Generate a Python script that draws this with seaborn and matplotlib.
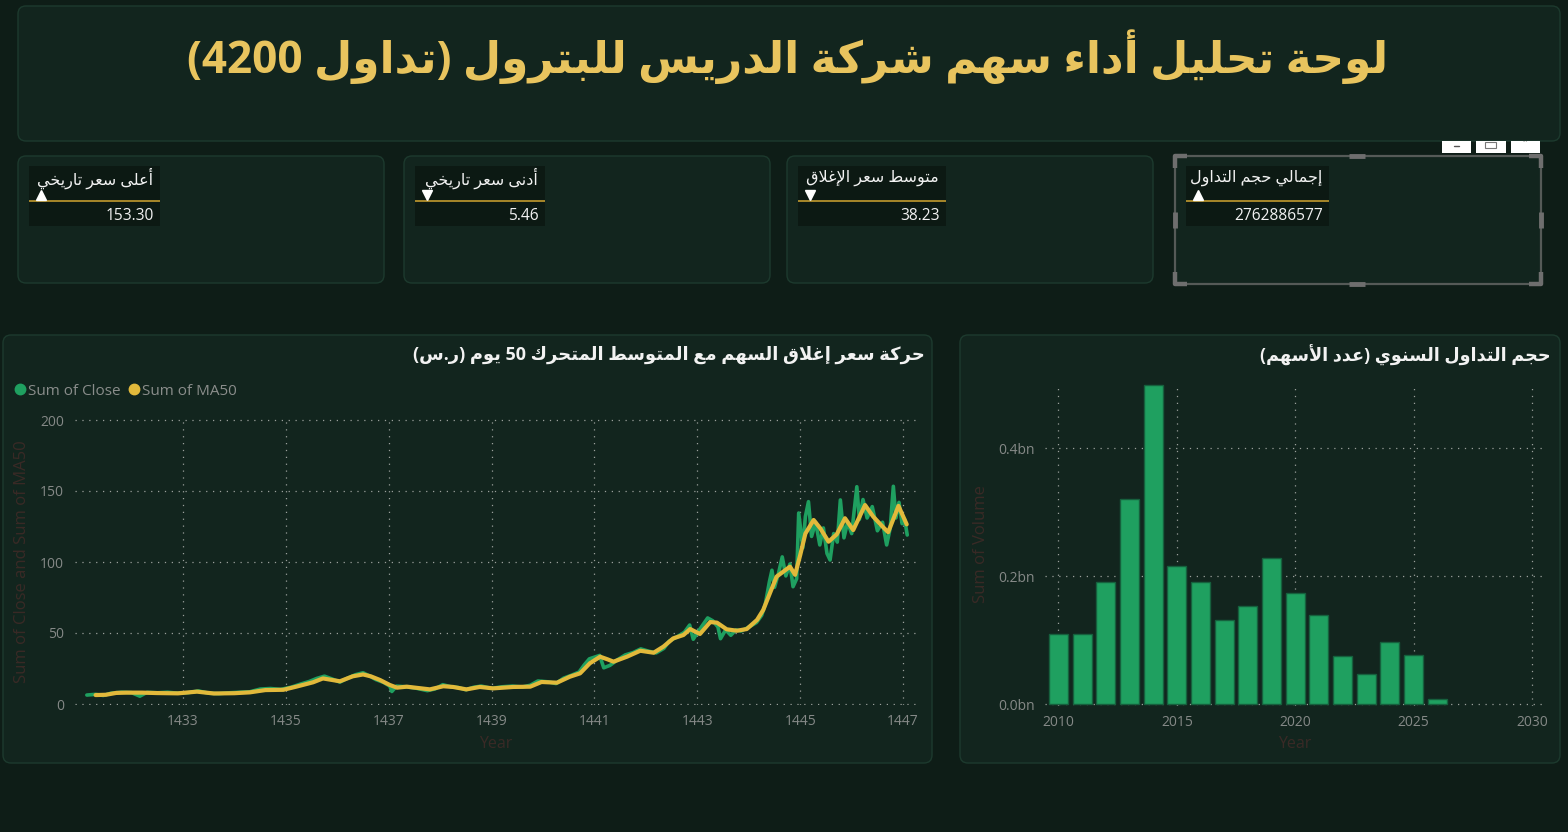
import re
import matplotlib
matplotlib.use("Agg")
import matplotlib.pyplot as plt
import pandas as pd
import seaborn as sns
from matplotlib.patches import FancyBboxPatch, Rectangle
from matplotlib.lines import Line2D
from matplotlib.ticker import FuncFormatter

# ---------------- data ----------------
TITLE = "لوحة تحليل أداء سهم شركة الدريس للبترول (تداول 4200)"
kpi_labels = ["أعلى سعر تاريخي", "أدنى سعر تاريخي", "متوسط سعر الإغلاق", "إجمالي حجم التداول"]
kpi_values = ["153.30", "5.46", "38.23", "2762886577"]
kpi_arrows = ["up", "down", "down", "up"]

line_title = "حركة سعر إغلاق السهم مع المتوسط المتحرك 50 يوم (ر.س)"
bar_title = "حجم التداول السنوي (عدد الأسهم)"
series_names = ["Sum of Close", "Sum of MA50"]

close_year = [1431.13, 1431.3, 1431.45, 1431.6, 1431.8, 1432.0, 1432.16, 1432.3, 1432.5, 1432.7,
              1432.9, 1433.1, 1433.3, 1433.5, 1433.7, 1433.9, 1434.1, 1434.3, 1434.5, 1434.7,
              1434.9, 1435.1, 1435.3, 1435.45, 1435.6, 1435.75, 1435.9, 1436.05, 1436.2, 1436.35,
              1436.5, 1436.6, 1436.75, 1436.9, 1437.02, 1437.06, 1437.15, 1437.35, 1437.55, 1437.75,
              1437.9, 1438.05, 1438.2, 1438.35, 1438.5, 1438.65, 1438.8, 1439.0, 1439.2, 1439.4,
              1439.6, 1439.75, 1439.9, 1440.1, 1440.25, 1440.4, 1440.55, 1440.7, 1440.8, 1440.9,
              1441.0, 1441.1, 1441.18, 1441.3, 1441.45, 1441.6, 1441.75, 1441.9, 1442.05, 1442.2,
              1442.35, 1442.45, 1442.6, 1442.75, 1442.85, 1442.92, 1443.0, 1443.1, 1443.2, 1443.3,
              1443.4, 1443.45, 1443.55, 1443.65, 1443.75, 1443.85, 1443.95, 1444.05, 1444.15, 1444.25,
              1444.32, 1444.4, 1444.45, 1444.5, 1444.58, 1444.65, 1444.72, 1444.8, 1444.86, 1444.93,
              1444.97, 1445.05, 1445.1, 1445.16, 1445.22, 1445.3, 1445.38, 1445.45, 1445.52, 1445.58,
              1445.65, 1445.72, 1445.78, 1445.85, 1445.92, 1446.0, 1446.1, 1446.15, 1446.22, 1446.3,
              1446.4, 1446.5, 1446.6, 1446.68, 1446.75, 1446.81, 1446.86, 1446.92, 1446.98, 1447.03,
              1447.08]
close_value = [6.3, 6.8, 6.0, 7.6, 8.3, 8.0, 5.5, 8.2, 7.9, 8.3,
               7.6, 8.0, 9.2, 7.6, 7.3, 7.9, 8.3, 8.6, 10.5, 10.9,
               10.3, 11.8, 14.2, 15.8, 18.0, 19.6, 17.6, 15.4, 18.2, 20.6,
               22.0, 20.2, 17.2, 15.2, 12.6, 8.8, 12.6, 12.1, 11.0, 9.4,
               10.6, 13.6, 12.2, 11.6, 10.0, 11.8, 12.6, 11.0, 12.1, 12.6,
               12.0, 13.2, 16.2, 15.6, 14.4, 18.2, 20.2, 22.5, 27.5, 31.8,
               33.0, 34.2, 25.5, 27.2, 31.2, 34.6, 36.2, 38.8, 37.2, 36.0,
               39.2, 44.2, 47.2, 50.6, 55.6, 45.6, 50.2, 55.4, 60.6, 58.6,
               54.2, 46.0, 52.2, 48.4, 52.2, 51.4, 53.2, 55.2, 57.4, 62.4,
               70.2, 86.0, 94.2, 82.2, 92.4, 103.6, 90.2, 98.6, 82.6, 88.2,
               134.5, 110.0, 132.0, 142.5, 118.0, 128.0, 112.0, 124.0, 106.0, 101.4,
               120.0, 114.0, 143.7, 117.0, 128.0, 120.0, 153.0, 130.0, 144.0, 131.0,
               139.0, 122.0, 128.0, 112.0, 124.0, 153.3, 131.0, 142.0, 127.0, 130.0,
               119.0]

ma50_year = [1431.3, 1431.5, 1431.7, 1431.9, 1432.2, 1432.5, 1432.9, 1433.27, 1433.6, 1434.0,
             1434.3, 1434.6, 1434.95, 1435.2, 1435.53, 1435.72, 1436.05, 1436.3, 1436.5, 1436.65,
             1436.83, 1437.02, 1437.16, 1437.35, 1437.8, 1438.06, 1438.25, 1438.51, 1438.77, 1439.03,
             1439.42, 1439.75, 1439.97, 1440.27, 1440.52, 1440.72, 1440.91, 1441.11, 1441.25, 1441.37,
             1441.63, 1441.89, 1442.15, 1442.34, 1442.53, 1442.73, 1442.86, 1443.05, 1443.25, 1443.38,
             1443.57, 1443.77, 1443.96, 1444.16, 1444.28, 1444.41, 1444.54, 1444.67, 1444.8, 1444.9,
             1445.0, 1445.1, 1445.26, 1445.39, 1445.55, 1445.71, 1445.87, 1446.03, 1446.26, 1446.42,
             1446.62, 1446.71, 1446.91, 1447.07]
ma50_value = [6.3, 6.5, 7.8, 8.0, 8.0, 7.7, 7.5, 8.7, 7.4, 7.6,
              8.2, 9.8, 10.0, 12.2, 15.3, 18.0, 16.0, 19.5, 20.8, 19.5,
              16.9, 13.4, 11.5, 12.2, 10.3, 12.5, 12.0, 10.3, 12.0, 11.0,
              12.0, 12.2, 15.5, 15.0, 19.2, 21.6, 28.7, 33.3, 31.5, 29.8,
              33.3, 37.5, 36.1, 40.4, 46.2, 48.6, 52.8, 49.3, 57.7, 57.3,
              52.6, 51.6, 52.8, 59.2, 66.2, 78.0, 89.7, 93.2, 96.7, 91.0,
              105.0, 120.0, 129.6, 123.7, 114.3, 119.5, 130.8, 122.5, 140.1, 131.9,
              124.2, 121.0, 139.5, 126.5]

vol_year = [2010, 2011, 2012, 2013, 2014, 2015, 2016, 2017, 2018, 2019,
            2020, 2021, 2022, 2023, 2024, 2025, 2026]
vol_value = [0.110e9, 0.110e9, 0.191e9, 0.320e9, 0.498e9, 0.216e9, 0.191e9, 0.131e9, 0.154e9, 0.228e9,
             0.174e9, 0.140e9, 0.075e9, 0.047e9, 0.098e9, 0.077e9, 0.009e9]

line_xticks = [1433, 1435, 1437, 1439, 1441, 1443, 1445, 1447]
line_yticks = [0, 50, 100, 150, 200]
bar_xticks = [2010, 2015, 2020, 2025, 2030]
bar_yticks = [0, 0.2e9, 0.4e9]

# ---------------- Arabic shaping (presentation forms + visual order) ----------------
_AR = {}
for ch, base in [("ب", 0xFE8F), ("ت", 0xFE95), ("ث", 0xFE99), ("ج", 0xFE9D), ("ح", 0xFEA1),
                 ("خ", 0xFEA5), ("س", 0xFEB1), ("ش", 0xFEB5), ("ص", 0xFEB9), ("ض", 0xFEBD),
                 ("ط", 0xFEC1), ("ظ", 0xFEC5), ("ع", 0xFEC9), ("غ", 0xFECD), ("ف", 0xFED1),
                 ("ق", 0xFED5), ("ك", 0xFED9), ("ل", 0xFEDD), ("م", 0xFEE1), ("ن", 0xFEE5),
                 ("ه", 0xFEE9), ("ي", 0xFEF1), ("ئ", 0xFE89)]:
    _AR[ch] = (chr(base), chr(base + 1), chr(base + 2), chr(base + 3))
for ch, base in [("ا", 0xFE8D), ("أ", 0xFE83), ("إ", 0xFE87), ("آ", 0xFE81), ("د", 0xFEA9),
                 ("ذ", 0xFEAB), ("ر", 0xFEAD), ("ز", 0xFEAF), ("و", 0xFEED), ("ة", 0xFE93),
                 ("ى", 0xFEEF), ("ؤ", 0xFE85)]:
    _AR[ch] = (chr(base), chr(base + 1), None, None)
_AR["ء"] = ("\uFE80", None, None, None)
_LA = {"ا": ("\uFEFB", "\uFEFC"), "أ": ("\uFEF7", "\uFEF8"),
       "إ": ("\uFEF9", "\uFEFA"), "آ": ("\uFEF5", "\uFEF6")}


def _forms(t):
    if t is None:
        return None
    if isinstance(t, tuple):
        f = _LA[t[1]]
        return (f[0], f[1], None, None)
    return _AR.get(t)


def ar(text):
    toks = []
    i = 0
    while i < len(text):
        c = text[i]
        if c == "ل" and i + 1 < len(text) and text[i + 1] in _LA:
            toks.append(("LA", text[i + 1]))
            i += 2
        else:
            toks.append(c)
            i += 1
    out = []
    for k, t in enumerate(toks):
        f = _forms(t)
        if f is None:
            out.append(t)
            continue
        pf = _forms(toks[k - 1]) if k > 0 else None
        nf = _forms(toks[k + 1]) if k + 1 < len(toks) else None
        jp = pf is not None and pf[2] is not None
        jn = f[2] is not None and nf is not None and nf[1] is not None
        if jp and jn:
            g = f[3]
        elif jp:
            g = f[1]
        elif jn:
            g = f[2]
        else:
            g = f[0]
        out.append(g)
    s = "".join(out)[::-1]
    s = re.sub(r"\d+(?:[.,]\d+)*", lambda m: m.group(0)[::-1], s)
    return s.translate(str.maketrans("()", ")("))


# ---------------- style ----------------
PAGE = "#0e1d17"
PANEL = "#12251e"
BORDER = "#1d3a2e"
LABELBOX = "#0c1913"
GOLD = "#e8c45e"
GREEN = "#1fa060"
YELLOW = "#e2b93b"
GRID = "#9aa09c"
TICK = "#858987"
DIM = "#3a2a26"

sns.set_theme(style="dark", rc={"axes.facecolor": "none", "figure.facecolor": PAGE,
                                "savefig.facecolor": PAGE})
plt.rcParams["font.family"] = ["Open Sans", "DejaVu Sans"]

W, H = 1568, 832
fig = plt.figure(figsize=(W / 100, H / 100), dpi=100)
fig.set_facecolor(PAGE)
bg = fig.add_axes([0, 0, 1, 1])
bg.set_xlim(0, W)
bg.set_ylim(H, 0)
bg.axis("off")
bg.set_zorder(0)
renderer = fig.canvas.get_renderer()


def rect(l, t, r, b):
    return [l / W, 1 - b / H, (r - l) / W, (b - t) / H]


def panel(x0, y0, x1, y1, fc=PANEL, ec=BORDER, r=8, lw=1.0):
    bg.add_patch(FancyBboxPatch((x0, y0), x1 - x0, y1 - y0,
                                boxstyle=f"round,pad=0,rounding_size={r}",
                                fc=fc, ec=ec, lw=lw))


def fit(t, width_px):
    bb = t.get_window_extent(renderer)
    t.set_fontsize(t.get_fontsize() * width_px / bb.width)
    return t


# title panel
panel(18, 6, 1560, 141)
fit(bg.text(788, 57, ar(TITLE), ha="center", va="center", color=GOLD,
            fontsize=30, fontweight="bold"), 1200)

# KPI cards
cards = [(18, 384), (404, 770), (787, 1153), (1175, 1541)]
boxes = [(29, 160), (415, 545), (798, 946), (1186, 1329)]
lab_size = None
val_size = None
for i, ((cx0, cx1), (bx0, bx1)) in enumerate(zip(cards, boxes)):
    if i < 3:
        panel(cx0, 156, cx1, 283)
    else:
        bg.add_patch(Rectangle((cx0, 156), cx1 - cx0, 128, fc=PANEL, ec="#555a57", lw=1.6))
    bg.add_patch(Rectangle((bx0, 166), bx1 - bx0, 60, fc=LABELBOX, ec="none"))
    bg.plot([bx0, bx1], [200.8, 200.8], color="#a8882a", lw=1.4, solid_capstyle="butt")
    tl = bg.text(bx1 - 7, 178, ar(kpi_labels[i]), ha="right", va="center", color="#f2f2f2",
                 fontsize=11)
    if lab_size is None:
        fit(tl, 116)
        lab_size = tl.get_fontsize()
    else:
        tl.set_fontsize(lab_size)
    bg.plot([bx0 + 12], [194.5], marker="^" if kpi_arrows[i] == "up" else "v",
            color="white", markersize=6.5, ls="")
    tv = bg.text(bx1 - 6, 215.5, kpi_values[i], ha="right", va="center", color="#f2f2f2",
                 fontsize=11)
    if val_size is None:
        fit(tv, 48)
        val_size = tv.get_fontsize()
    else:
        tv.set_fontsize(val_size)

# selection handles on card 4
hc = "#6e6e6e"
x0, y0, x1, y1 = 1175, 156, 1541, 284
for (px, py, dx, dy) in [(x0, y0, 1, 1), (x1, y0, -1, 1), (x0, y1, 1, -1), (x1, y1, -1, -1)]:
    bg.plot([px + dx * 12, px, px], [py, py, py + dy * 12], color=hc, lw=3.2,
            solid_capstyle="butt")
bg.plot([1349, 1365], [y0, y0], color=hc, lw=3.5, solid_capstyle="butt")
bg.plot([1349, 1365], [y1, y1], color=hc, lw=3.5, solid_capstyle="butt")
bg.plot([x0, x0], [212, 228], color=hc, lw=3.5, solid_capstyle="butt")
bg.plot([x1, x1], [212, 228], color=hc, lw=3.5, solid_capstyle="butt")
for bx0_, bx1_ in [(1442, 1471), (1476, 1506), (1511, 1540)]:
    bg.add_patch(Rectangle((bx0_, 141), bx1_ - bx0_, 12, fc="white", ec="none"))
bg.plot([1454, 1459], [146, 146], color="#555", lw=1)
bg.add_patch(Rectangle((1485, 142), 11, 6, fc="none", ec="#777", lw=0.8))
bg.text(1525.5, 143, "···", ha="center", va="center", fontsize=5, color="#888")

# chart panels
panel(3, 335, 932, 763)
panel(960, 335, 1560, 763)
fit(bg.text(925, 355, ar(line_title), ha="right", va="center", color="#f2f2f2",
            fontsize=13, fontweight="bold"), 510)
fit(bg.text(1551, 355, ar(bar_title), ha="right", va="center", color="#f2f2f2",
            fontsize=13, fontweight="bold"), 289)

grid_kw = dict(color=GRID, lw=0.9, ls=(0, (1, 4.5)))

# ---------------- line chart ----------------
df = pd.concat([
    pd.DataFrame({"Year": close_year, "value": close_value, "series": series_names[0]}),
    pd.DataFrame({"Year": ma50_year, "value": ma50_value, "series": series_names[1]}),
], ignore_index=True)

ax1 = fig.add_axes(rect(75, 420 - 1.42, 917, 704 + 1.42))
ax1.set_zorder(1)
sns.lineplot(data=df, x="Year", y="value", hue="series", hue_order=series_names,
             palette={series_names[0]: GREEN, series_names[1]: YELLOW},
             estimator=None, errorbar=None, legend=False, ax=ax1, linewidth=2.6)
ax1.lines[1].set_linewidth(3.0)
ax1.set_xlim(1430.90, 1447.27)
ax1.set_ylim(-1, 201)
ax1.set_xticks(line_xticks)
ax1.set_yticks(line_yticks)
ax1.grid(True, **grid_kw)
for s in ax1.spines.values():
    s.set_visible(False)
ax1.tick_params(colors=TICK, labelsize=10, length=0)
ax1.tick_params(axis="y", pad=8)
ax1.tick_params(axis="x", pad=6)
ax1.set_xlabel("Year", color=DIM, fontsize=11.5, va="center")
ax1.set_ylabel("Sum of Close and Sum of MA50", color=DIM, fontsize=12, va="center")
ax1.xaxis.set_label_coords(0.5, -0.134)
ax1.yaxis.set_label_coords(-0.063, 0.5)
handles = [Line2D([], [], marker="o", ls="", color=c, markersize=7.5) for c in (GREEN, YELLOW)]
ax1.legend(handles, series_names, loc="center left", bbox_to_anchor=(12 / W, 1 - 391 / H),
           bbox_transform=fig.transFigure, frameon=False, ncol=2, handletextpad=0.05,
           columnspacing=0.35, fontsize=11, labelcolor="#8a8d8b", borderpad=0,
           handlelength=1.0, borderaxespad=0)

# ---------------- bar chart ----------------
axb = fig.add_axes(rect(1044.5, 384, 1543.6, 706.3))
axb.set_zorder(1)
sns.barplot(x=vol_year, y=vol_value, native_scale=True, color=GREEN, saturation=1,
            edgecolor="#16603d", linewidth=1.0, width=0.8, errorbar=None, ax=axb)
axb.set_xlim(2009.41, 2030.49)
axb.set_ylim(-0.0031e9, 0.5e9)
axb.set_xticks(bar_xticks)
axb.set_yticks(bar_yticks)
axb.yaxis.set_major_formatter(FuncFormatter(lambda v, p: f"{v / 1e9:.1f}bn"))
axb.grid(True, **grid_kw)
axb.set_axisbelow(True)
for s in axb.spines.values():
    s.set_visible(False)
axb.tick_params(colors=TICK, labelsize=10, length=0)
axb.tick_params(axis="y", pad=7)
axb.tick_params(axis="x", pad=6)
axb.set_xlabel("Year", color=DIM, fontsize=11.5, va="center")
axb.set_ylabel("Sum of Volume", color=DIM, fontsize=12, va="center")
axb.xaxis.set_label_coords(0.502, -0.118)
axb.yaxis.set_label_coords(-0.127, 0.502)

fig.savefig("out.png", dpi=100, facecolor=PAGE)
